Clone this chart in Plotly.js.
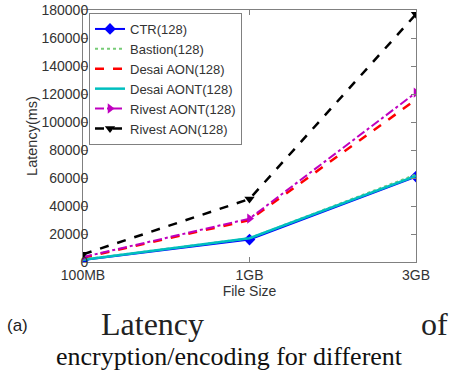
<!DOCTYPE html>
<html>
<head>
<meta charset="utf-8">
<script src="https://cdn.plot.ly/plotly-3.0.1.min.js"></script>
<style>html,body{margin:0;padding:0;background:#fff;}#chart{width:454px;height:372px;}</style>
</head>
<body>
<div id="chart"></div>
<script>
const fileSizes = ['100MB', '1GB', '3GB'];
const ctr = [1500, 16000, 61000];
const bastion = [1800, 17000, 62500];
const desaiAON = [3000, 30000, 116000];
const desaiAONT = [1600, 17000, 61500];
const rivestAONT = [3500, 31000, 121000];
const rivestAON = [5500, 45000, 177000];
const seriesNames = ['CTR(128)', 'Bastion(128)', 'Desai AON(128)', 'Desai AONT(128)', 'Rivest AONT(128)', 'Rivest AON(128)'];
const yTicks = [0, 20000, 40000, 60000, 80000, 100000, 120000, 140000, 160000, 180000];

const W = 454, H = 372, L = 83, R = 38, T = 10, B = 110;
const pw = W - L - R, ph = H - T - B;
const px = x => (x - L) / pw;
const py = y => (H - B - y) / ph;

const traces = [
  {x: fileSizes, y: ctr, name: seriesNames[0], mode: 'lines+markers',
   line: {color: '#0000ff', width: 2}, marker: {symbol: 'diamond', size: 9, color: '#0000ff'}},
  {x: fileSizes, y: bastion, name: seriesNames[1], mode: 'lines',
   line: {color: '#77cc77', width: 2, dash: 'dot'}},
  {x: fileSizes, y: desaiAON, name: seriesNames[2], mode: 'lines',
   line: {color: '#ff0000', width: 2.5, dash: 'dash'}},
  {x: fileSizes, y: desaiAONT, name: seriesNames[3], mode: 'lines',
   line: {color: '#00bfbf', width: 2.5}},
  {x: fileSizes, y: rivestAONT, name: seriesNames[4], mode: 'lines+markers',
   line: {color: '#bf00bf', width: 2, dash: 'dashdot'}, marker: {symbol: 'triangle-right', size: 9, color: '#bf00bf'}},
  {x: fileSizes, y: rivestAON, name: seriesNames[5], mode: 'lines+markers',
   line: {color: '#000000', width: 2.5, dash: 'dash'}, marker: {symbol: 'triangle-down', size: 9, color: '#000000'}}
];

const axisCommon = {
  showgrid: false, zeroline: false, showline: true, linecolor: '#808080', linewidth: 1,
  mirror: 'ticks', ticks: 'inside', ticklen: 5, tickcolor: '#808080',
  tickfont: {family: 'Liberation Sans, Arial, sans-serif', size: 14, color: '#333'}
};

const layout = {
  width: W, height: H,
  margin: {l: L, r: R, t: T, b: B, pad: 0},
  paper_bgcolor: '#fff', plot_bgcolor: '#fff',
  showlegend: true,
  legend: {x: px(89), y: py(13), xanchor: 'left', yanchor: 'top',
    bgcolor: '#fff', bordercolor: '#808080', borderwidth: 1,
    font: {family: 'Liberation Sans, Arial, sans-serif', size: 13, color: '#333'},
    tracegroupgap: 0, itemwidth: 30},
  xaxis: Object.assign({}, axisCommon, {
    type: 'category', range: [0, 2], tickvals: fileSizes, ticktext: fileSizes,
    title: {text: 'File Size', standoff: 2, font: {family: 'Liberation Sans, Arial, sans-serif', size: 14, color: '#333'}}
  }),
  yaxis: Object.assign({}, axisCommon, {
    range: [0, 180000], tickvals: yTicks, ticktext: yTicks.map(String),
    ticklabelstandoff: -9,
    title: {text: 'Latency(ms)', standoff: 0, font: {family: 'Liberation Sans, Arial, sans-serif', size: 14.5, color: '#333'}}
  }),
  annotations: [
    {xref: 'paper', yref: 'paper', x: px(17), y: py(325), xanchor: 'center', yanchor: 'middle', showarrow: false,
     text: '(a)', font: {family: 'Liberation Sans, Arial, sans-serif', size: 17, color: '#222'}},
    {xref: 'paper', yref: 'paper', x: px(99), y: py(324), xanchor: 'left', yanchor: 'middle', showarrow: false,
     text: 'Latency', font: {family: 'Liberation Serif, Times New Roman, serif', size: 32, color: '#222'}},
    {xref: 'paper', yref: 'paper', x: px(450), y: py(324), xanchor: 'right', yanchor: 'middle', showarrow: false,
     text: 'of', font: {family: 'Liberation Serif, Times New Roman, serif', size: 32, color: '#222'}},
    {xref: 'paper', yref: 'paper', x: px(229), y: py(356), xanchor: 'center', yanchor: 'middle', showarrow: false,
     text: 'encryption/encoding for different', font: {family: 'Liberation Serif, Times New Roman, serif', size: 26, color: '#111'}}
  ]
};

Plotly.newPlot('chart', traces, layout, {displayModeBar: false, staticPlot: true});
</script>
</body>
</html>
